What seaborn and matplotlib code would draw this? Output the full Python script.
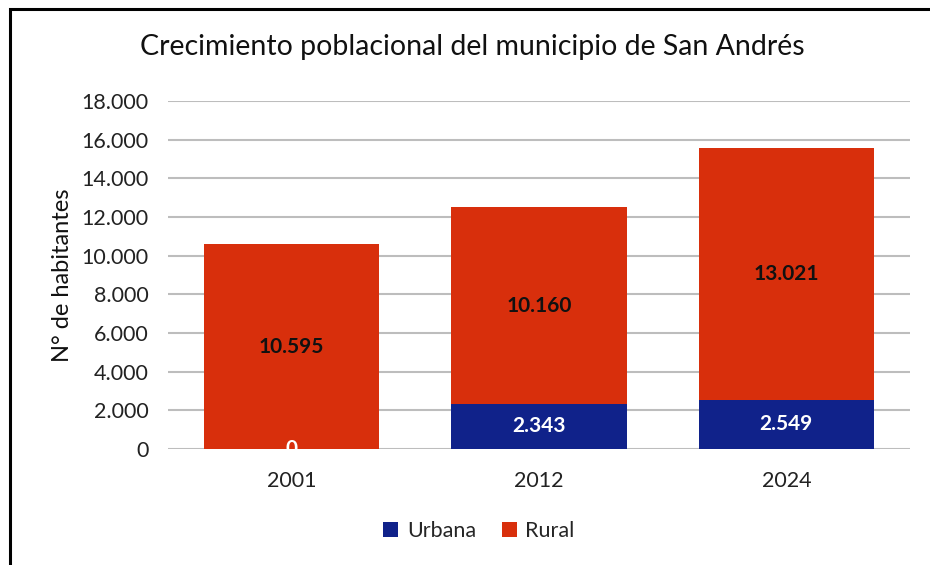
import seaborn as sns
import matplotlib.pyplot as plt
import pandas as pd
from matplotlib.patches import Rectangle

years = ["2001", "2012", "2024"]
urbana = [0, 2343, 2549]
rural = [10595, 10160, 13021]

color_urbana = "#10228A"
color_rural = "#D82F0C"

df = pd.DataFrame({"year": years, "urbana": urbana, "rural": rural})
df["total"] = df["urbana"] + df["rural"]

sns.set_theme(style="white")
plt.rcParams["font.family"] = ["Lato", "DejaVu Sans"]


def fmt(v):
	return "{:,}".format(int(v)).replace(",", ".")


fig = plt.figure(figsize=(9.3, 5.65), dpi=100)
ax = fig.add_axes([0.1806, 0.2053, 0.7979, 0.6159])

# stacked: total in rural colour, urbana drawn over it
sns.barplot(data=df, x="year", y="total", color=color_rural, width=0.71,
	saturation=1, ax=ax, zorder=3, label="Rural", linewidth=0)
sns.barplot(data=df, x="year", y="urbana", color=color_urbana, width=0.71,
	saturation=1, ax=ax, zorder=4, label="Urbana", linewidth=0)

ax.set_ylim(0, 18000)
ax.set_xlim(-0.5, 2.5)
ax.set_yticks(range(0, 18001, 2000))
ax.set_yticklabels([fmt(v) for v in range(0, 18001, 2000)])
ax.yaxis.grid(True, color="#BDBDBD", linewidth=1.5, zorder=0)
ax.set_axisbelow(True)
for s in ax.spines.values():
	s.set_visible(False)
ax.tick_params(axis="both", length=0, labelsize=15.5, colors="#222222")
ax.tick_params(axis="y", pad=14)
ax.tick_params(axis="x", pad=16)
ax.set_xlabel("")
ax.set_ylabel("N° de habitantes", fontsize=17, color="#111111", labelpad=6)

# data labels
for i, row in df.iterrows():
	ax.text(i, row["urbana"] + row["rural"] / 2, fmt(row["rural"]), ha="center",
		va="center", fontsize=15, fontweight="bold", color="#111111", zorder=6)
	ax.text(i, row["urbana"] / 2, fmt(row["urbana"]), ha="center", va="center",
		fontsize=15, fontweight="bold", color="white", zorder=6, clip_on=False)

fig.suptitle("Crecimiento poblacional del municipio de San Andrés", fontsize=20.5,
	x=0.508, y=0.94, color="#111111")

# legend
handles, labels = ax.get_legend_handles_labels()
order = [labels.index("Urbana"), labels.index("Rural")]
fig.legend([handles[k] for k in order], [labels[k] for k in order], loc="center",
	bbox_to_anchor=(0.515, 0.06), ncol=2, frameon=False, fontsize=15.5,
	handlelength=0.7, handleheight=0.7, handletextpad=0.4, columnspacing=1.2)
if ax.get_legend() is not None:
	ax.get_legend().remove()

# chart frame (cropped at right and bottom)
fig.patches.append(Rectangle((10 / 930, -0.1), 1.2, 1 - 9 / 565 + 0.1,
	transform=fig.transFigure, fill=False, edgecolor="black", linewidth=2.2))

fig.savefig("out.png", dpi=100)
